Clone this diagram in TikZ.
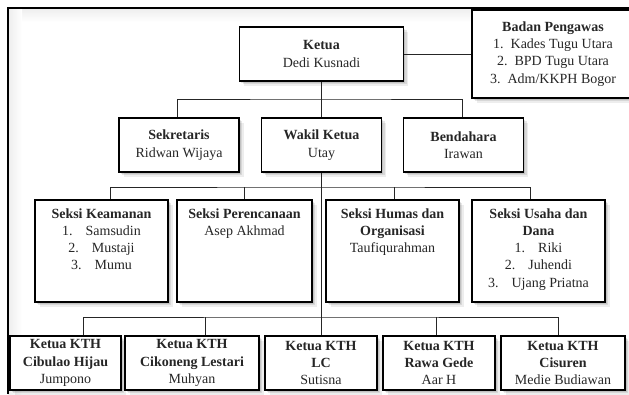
\documentclass[tikz,border=0pt]{standalone}
\usepackage{fontspec}
\setmainfont{Liberation Serif}
\usetikzlibrary{shadows}
\tikzset{
  softshadow/.style={
    general shadow={fill=black, opacity=0.10, shadow xshift=1.5pt, shadow yshift=-1.5pt},
    general shadow={fill=black, opacity=0.09, shadow xshift=3pt, shadow yshift=-3pt},
    general shadow={fill=black, opacity=0.07, shadow xshift=4.5pt, shadow yshift=-4.5pt}},
  box/.style={draw=black, line width=1.8pt, fill=white, inner sep=0pt, align=center,
    font=\fontsize{14}{17.3}\selectfont, text=black!85, softshadow},
  txt/.style={inner sep=0pt, align=center, font=\fontsize{14}{17.3}\selectfont, text=black!85},
  conn/.style={line width=1pt, draw=black!85},
  frame/.style={line width=1.2pt, draw=black}
}
\begin{document}
\begin{tikzpicture}[x=1pt,y=-1pt]
\clip (0,0) rectangle (629,394);
\fill[white] (0,0) rectangle (629,394);
% inner glow of the frame
\shade[top color=black!7, bottom color=white] (8,8) rectangle (629,22);
\shade[left color=black!7, right color=white] (8,8) rectangle (22,394);
\draw[frame] (8,394) -- (8,8) -- (629,8);

% top level
\node[box, minimum width=164pt, minimum height=54pt] (ketua) at (321.5,54)
  {\textbf{Ketua}\\Dedi Kusnadi};
\node[box, minimum width=162pt, minimum height=88pt] (badan) at (553,54)
  {\textbf{Badan Pengawas}\\1.\hspace{7pt}Kades Tugu Utara\\2.\hspace{7pt}BPD Tugu Utara\\3.\hspace{7pt}Adm/KKPH Bogor};

% second level
\node[box, minimum width=120pt, minimum height=54pt] (sek) at (179,145)
  {\textbf{Sekretaris}\\Ridwan Wijaya};
\node[box, minimum width=120pt, minimum height=54pt] (wak) at (321.5,145)
  {\textbf{Wakil Ketua}\\Utay};
\node[box, minimum width=120pt, minimum height=54pt] (bend) at (463.5,145)
  {\textbf{Bendahara}\\Irawan};

% seksi level
\node[box, minimum width=133pt, minimum height=102pt] (ke) at (101.5,251) {};
\node[box, minimum width=135pt, minimum height=102pt] (pe) at (244.5,251) {};
\node[box, minimum width=133pt, minimum height=102pt] (hu) at (392.5,251) {};
\node[box, minimum width=133pt, minimum height=102pt] (us) at (538.5,251) {};
\node[txt, anchor=north] (keT) at ([yshift=-9pt]ke.north)
  {\textbf{Seksi Keamanan}\\1.\hspace{13pt}Samsudin\\2.\hspace{13pt}Mustaji\\3.\hspace{13pt}Mumu};
\node[txt, anchor=north] (peT) at ([yshift=-9pt]pe.north)
  {\textbf{Seksi Perencanaan}\\Asep Akhmad};
\node[txt, anchor=north] (huT) at ([yshift=-9pt]hu.north)
  {\textbf{Seksi Humas dan}\\\textbf{Organisasi}\\Taufiqurahman};
\node[txt, anchor=north] (usT) at ([yshift=-9pt]us.north)
  {\textbf{Seksi Usaha dan}\\\textbf{Dana}\\1.\hspace{13pt}Riki\\2.\hspace{13pt}Juhendi\\3.\hspace{13pt}Ujang Priatna};

% KTH level
\node[box, minimum width=111pt, minimum height=54pt] (k1) at (65.5,363)
  {\textbf{Ketua KTH}\\\textbf{Cibulao Hijau}\\Jumpono};
\node[box, minimum width=134pt, minimum height=54pt] (k2) at (192,363)
  {\textbf{Ketua KTH}\\\textbf{Cikoneng Lestari}\\Muhyan};
\node[box, minimum width=112pt, minimum height=54pt] (k3) at (321,363)
  {\textbf{Ketua KTH}\\\textbf{LC}\\Sutisna};
\node[box, minimum width=112pt, minimum height=54pt] (k4) at (439,363)
  {\textbf{Ketua KTH}\\\textbf{Rawa Gede}\\Aar H};
\node[box, minimum width=124pt, minimum height=54pt] (k5) at (563,363)
  {\textbf{Ketua KTH}\\\textbf{Cisuren}\\Medie Budiawan};

% connectors
\coordinate (bus1) at (321.5,99);
\coordinate (bus2) at (321.5,187);
\coordinate (bus3) at (321.5,317);
\draw[conn] (ketua.east) -- (badan.west);
\draw[conn] (ketua.south) -- (wak.north);
\draw[conn] ([xshift=-2pt]sek.north) |- (bus1) -| ([xshift=-1.5pt]bend.north);
\draw[conn] (wak.south) -- (wak.south |- k3.north);
\draw[conn] ([xshift=8.5pt]ke.north) |- (bus2) -| ([xshift=-8.5pt]us.north);
\draw[conn] (pe.north) -- (pe.north |- bus2);
\draw[conn] ([xshift=1.5pt]hu.north) -- ([xshift=1.5pt]hu.north |- bus2);
\draw[conn] ([xshift=17.5pt]k1.north) |- (bus3) -| ([xshift=-5pt]k5.north);
\draw[conn] ([xshift=13pt]k2.north) -- ([xshift=13pt]k2.north |- bus3);
\draw[conn] ([xshift=-3pt]k4.north) -- ([xshift=-3pt]k4.north |- bus3);
\end{tikzpicture}
\end{document}
